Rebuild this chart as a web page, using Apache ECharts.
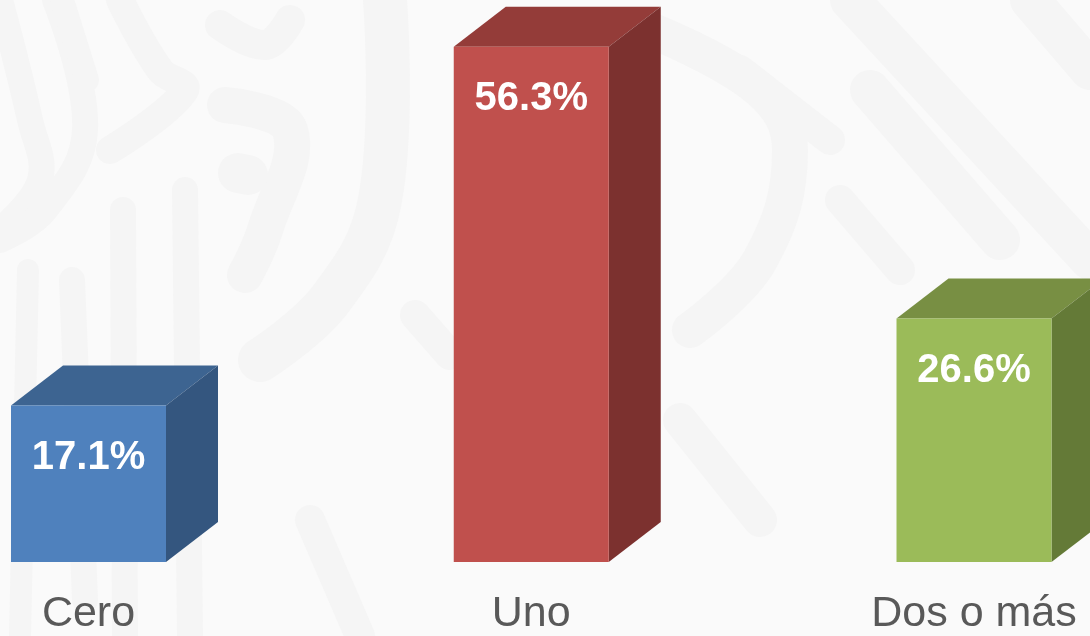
<!DOCTYPE html>
<html>
<head>
<meta charset="utf-8">
<script src="https://cdn.jsdelivr.net/npm/echarts@6/dist/echarts.min.js"></script>
<style>
  html, body { margin: 0; padding: 0; background: #fafafa; }
  #chart { width: 1090px; height: 636px; }
</style>
</head>
<body>
<div id="chart"></div>
<script>
// Share of households by number of members (percent)
const categories = ['Cero', 'Uno', 'Dos o más'];
const values = [17.1, 56.3, 26.6];
const valueLabels = ['17.1%', '56.3%', '26.6%'];

// Face colours for each box: front, top, side
const frontColors = ['#4f81bd', '#c0504d', '#9bbb59'];
const topColors = ['#3d6491', '#943c39', '#788f43'];
const sideColors = ['#34567f', '#7c312f', '#647a37'];

const BAR_W = 155;   // width of the front face
const DX = 52;       // depth offset to the right
const DY = 40;       // depth offset upwards
const LABEL_DROP = 52;

const chart = echarts.init(document.getElementById('chart'), null, { renderer: 'canvas' });

// Faint decorative strokes in the backdrop
function stroke(points, w) {
  return {
    type: 'polyline', silent: true, z: -10,
    shape: { points: points, smooth: 0.4 },
    style: { stroke: '#f5f5f5', lineWidth: w, lineCap: 'round', lineJoin: 'round', fill: null }
  };
}
const backdrop = [
  stroke([[72, 280], [85, 600]], 26),
  stroke([[123, 210], [125, 636]], 26),
  stroke([[185, 190], [190, 636]], 26),
  stroke([[28, 270], [20, 636]], 22),
  stroke([[0, 0], [30, 120], [40, 180], [0, 230]], 26),
  stroke([[55, 0], [85, 130], [45, 210], [0, 240]], 26),
  stroke([[62, 0], [87, 80]], 24),
  stroke([[120, 0], [160, 70], [185, 90], [110, 150]], 28),
  stroke([[225, 105], [290, 130], [265, 230], [245, 275]], 36),
  stroke([[238, 173], [248, 175]], 40),
  stroke([[220, 25], [265, 45], [290, 20]], 30),
  stroke([[385, 0], [380, 200], [330, 300], [260, 360]], 44),
  stroke([[415, 315], [450, 355]], 30),
  stroke([[650, 30], [760, 90], [790, 150], [760, 260], [690, 330]], 36),
  stroke([[740, 70], [830, 140]], 30),
  stroke([[870, 90], [1000, 240]], 40),
  stroke([[850, 0], [1090, 260]], 40),
  stroke([[1030, 0], [1090, 70]], 40),
  stroke([[840, 200], [900, 270]], 30),
  stroke([[520, 360], [560, 440]], 28),
  stroke([[310, 520], [360, 636]], 30),
  stroke([[680, 420], [760, 520]], 34)
];

chart.setOption({
  backgroundColor: '#fafafa',
  animation: false,
  graphic: backdrop,
  grid: { left: 88.5, right: 116, top: 13, bottom: 70 },
  xAxis: {
    type: 'category',
    data: categories,
    boundaryGap: false,
    axisLine: { show: false },
    axisTick: { show: false },
    axisLabel: {
      color: '#595959',
      fontFamily: 'Liberation Sans, Arial, sans-serif',
      fontSize: 43,
      margin: 31
    }
  },
  yAxis: {
    type: 'value',
    min: 0,
    max: 60,
    show: false,
    splitLine: { show: false }
  },
  series: [{
    type: 'custom',
    clip: false,
    data: values.map((v, i) => [i, v]),
    renderItem: function (params, api) {
      const idx = api.value(0);
      const top = api.coord([idx, api.value(1)]);
      const base = api.coord([idx, 0]);
      const x0 = top[0] - BAR_W / 2;
      const x1 = top[0] + BAR_W / 2;
      const yT = top[1];
      const yB = base[1];
      return {
        type: 'group',
        children: [
          {
            type: 'polygon',
            shape: { points: [[x0, yT], [x0 + DX, yT - DY], [x1 + DX, yT - DY], [x1, yT]] },
            style: { fill: topColors[idx] }
          },
          {
            type: 'polygon',
            shape: { points: [[x1, yT], [x1 + DX, yT - DY], [x1 + DX, yB - DY], [x1, yB]] },
            style: { fill: sideColors[idx] }
          },
          {
            type: 'rect',
            shape: { x: x0, y: yT, width: x1 - x0, height: yB - yT },
            style: { fill: frontColors[idx] }
          },
          {
            type: 'text',
            x: top[0],
            y: yT + LABEL_DROP,
            style: {
              text: valueLabels[idx],
              fill: '#ffffff',
              font: 'bold 40px "Liberation Sans", Arial, sans-serif',
              align: 'center',
              verticalAlign: 'middle'
            }
          }
        ]
      };
    }
  }]
});
</script>
</body>
</html>
